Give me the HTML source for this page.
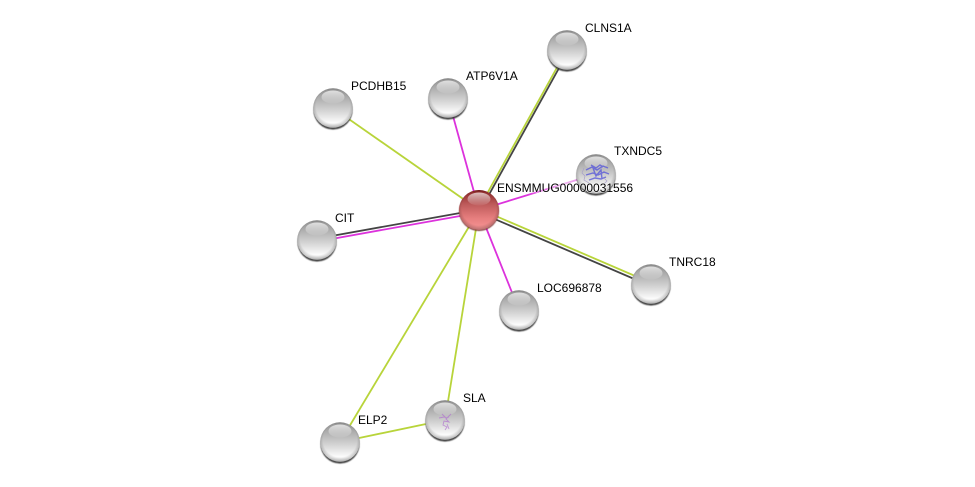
<!DOCTYPE html>
<html>
<head>
<meta charset="utf-8">
<style>
html,body{margin:0;padding:0;background:#fff;width:975px;height:487px;overflow:hidden}
svg{display:block}
text{font-family:"Liberation Sans",Arial,sans-serif;font-size:12px;fill:#000;paint-order:stroke;stroke:rgba(255,255,255,.45);stroke-width:1.6px}
</style>
</head>
<body>
<svg width="975" height="487" viewBox="0 0 975 487" xmlns="http://www.w3.org/2000/svg">
<defs>
<linearGradient id="g" x1="0" y1="0" x2="0" y2="1">
<stop offset="0" stop-color="#7e7e7e"/><stop offset=".05" stop-color="#959595"/><stop offset=".3" stop-color="#b4b4b4"/><stop offset=".6" stop-color="#d8d8d8"/><stop offset=".88" stop-color="#fdfdfd"/><stop offset="1" stop-color="#e8e8e8"/>
</linearGradient>
<linearGradient id="r" x1="0" y1="0" x2="0" y2="1">
<stop offset="0" stop-color="#641010"/><stop offset=".05" stop-color="#8e2c2c"/><stop offset=".35" stop-color="#bd5a5a"/><stop offset=".7" stop-color="#e67e7e"/><stop offset="1" stop-color="#f89696"/>
</linearGradient>
<linearGradient id="h" x1="0" y1="0" x2="0" y2="1">
<stop offset="0" stop-color="#fff" stop-opacity=".7"/><stop offset="1" stop-color="#fff" stop-opacity=".05"/>
</linearGradient>
<radialGradient id="e" cx=".5" cy=".45" r=".55">
<stop offset=".78" stop-color="#000" stop-opacity="0"/><stop offset="1" stop-color="#000" stop-opacity=".26"/>
</radialGradient>
<linearGradient id="fade" gradientUnits="userSpaceOnUse" x1="479" y1="210" x2="596" y2="174">
<stop offset="0" stop-color="#dc32dc"/><stop offset=".4" stop-color="#dc32dc"/><stop offset=".75" stop-color="#f0b0f0"/><stop offset="1" stop-color="#e070e0"/>
</linearGradient>
<filter id="b" x="-20%" y="-20%" width="140%" height="140%"><feGaussianBlur stdDeviation=".6"/></filter>
<g id="s">
<circle cx="0" cy="2" r="19.6" fill="#333" opacity=".9" filter="url(#b)"/>
<circle r="19.8" fill="url(#g)"/>
<circle r="19.8" fill="url(#e)"/>
<ellipse cx="0" cy="-11" rx="11.5" ry="6.5" fill="url(#h)"/>
</g>
<g id="c">
<circle cx="0" cy="1" r="20" fill="#6a1c1c" opacity=".85" filter="url(#b)"/>
<circle r="20" fill="url(#r)"/>
<circle r="20" fill="url(#e)"/>
<ellipse cx="0" cy="-11" rx="11.5" ry="6.5" fill="url(#h)"/>
</g>
</defs>

<g fill="none" stroke-width="1.8">
<line x1="333" y1="108" x2="479" y2="210" stroke="#b8d43a"/>
<line x1="448" y1="98" x2="479" y2="210" stroke="#dc32dc"/>
<line x1="596" y1="174" x2="479" y2="210" stroke="url(#fade)"/>
<line x1="519" y1="310" x2="479" y2="210" stroke="#dc32dc"/>
<line x1="445" y1="420" x2="479" y2="210" stroke="#b8d43a"/>
<line x1="340" y1="442" x2="479" y2="210" stroke="#b8d43a"/>
<line x1="340" y1="442" x2="445" y2="420" stroke="#b8d43a"/>
<line x1="566.700" y1="50" x2="478" y2="210" stroke="#b8d43a"/>
<line x1="569" y1="50" x2="480.500" y2="210" stroke="#444"/>
<line x1="317" y1="238.600" x2="479" y2="209.600" stroke="#444"/>
<line x1="317" y1="241.600" x2="479" y2="212.600" stroke="#dc32dc"/>
<line x1="651" y1="282.800" x2="479" y2="208.800" stroke="#b8d43a"/>
<line x1="651" y1="286.200" x2="479" y2="212.300" stroke="#444"/>
</g>

<use href="#s" x="567" y="50"/>
<use href="#s" x="448" y="98"/>
<use href="#s" x="333" y="108"/>
<use href="#s" x="596" y="174"/>
<use href="#s" x="317" y="240"/>
<use href="#s" x="651" y="284"/>
<use href="#s" x="519" y="310"/>
<use href="#s" x="445" y="420"/>
<use href="#s" x="340" y="442"/>
<use href="#c" x="479" y="210"/>

<g fill="none" stroke="#5a5ad8" stroke-width="1.4" opacity=".8">
<path d="M586 170l6-3 5 3 6-4 5 2M586 175l7-2 5 2 6-3 5 2M589 180l6-2 6 1 5-2M591 165l5 3 4-3 3 2M593 168l3 8 5-6 1 9"/>
</g>
<g fill="none" stroke="#a9a0c8" stroke-width=".7">
<path d="M584 168l-2 5 3 3-1 4 5 3M604 178l3 3-3 3"/>
</g>
<g fill="none" stroke="#b070d0" stroke-width=".9" opacity=".7">
<path d="M439 418l5-1 3 1 4-4-5 5 3 3-5-1-1 4 4 2-2 3M442 414l4 4 3-1M447 424l2 5"/>
</g>

<text x="585" y="32">CLNS1A</text>
<text x="466" y="80">ATP6V1A</text>
<text x="351" y="90">PCDHB15</text>
<text x="614" y="155">TXNDC5</text>
<text x="497" y="192">ENSMMUG00000031556</text>
<text x="335" y="222">CIT</text>
<text x="669" y="266">TNRC18</text>
<text x="537" y="292">LOC696878</text>
<text x="463" y="402">SLA</text>
<text x="358" y="424">ELP2</text>
</svg>
</body>
</html>
